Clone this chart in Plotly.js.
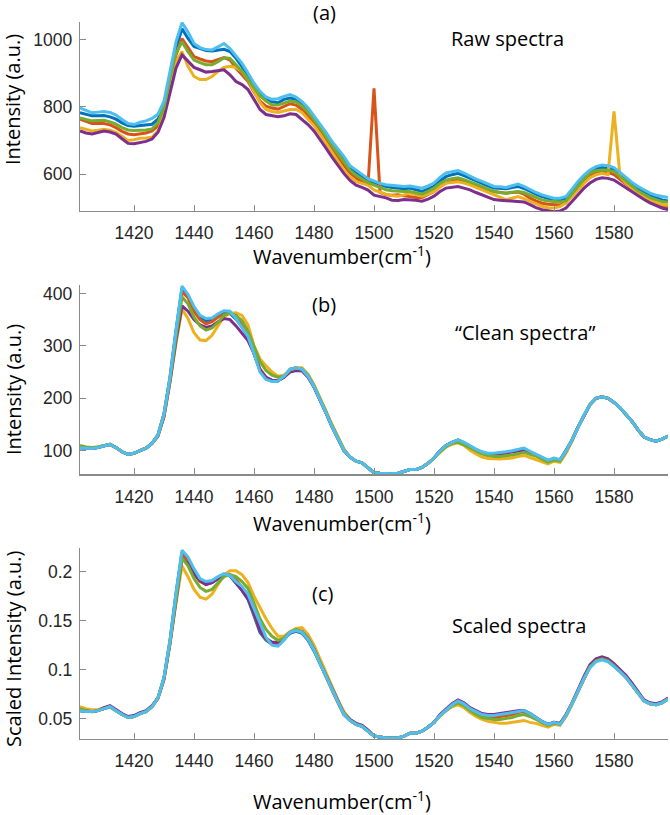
<!DOCTYPE html>
<html>
<head>
<meta charset="utf-8">
<script src="https://cdn.plot.ly/plotly-3.0.1.min.js"></script>
<style>html,body{margin:0;padding:0;background:#fff;}#chart{width:670px;height:815px;}</style>
</head>
<body>
<div id="chart"></div>
<script>
// Wavenumber (cm^-1)
const wavenumber = [
1402,1404,1406,1408,1410,1412,1414,1416,1418,1420,
1422,1424,1426,1428,1430,1432,1434,1436,1438,1440,
1442,1444,1446,1448,1450,1452,1454,1456,1458,1460,
1462,1464,1466,1468,1470,1472,1474,1476,1478,1480,
1482,1484,1486,1488,1490,1492,1494,1496,1498,1500,
1502,1504,1506,1508,1510,1512,1514,1516,1518,1520,
1522,1524,1526,1528,1530,1532,1534,1536,1538,1540,
1542,1544,1546,1548,1550,1552,1554,1556,1558,1560,
1562,1564,1566,1568,1570,1572,1574,1576,1578,1580,
1582,1584,1586,1588,1590,1592,1594,1596,1598];

const seriesNames = ["Spectrum 1","Spectrum 2","Spectrum 3","Spectrum 4","Spectrum 5","Spectrum 6"];
const xTicks = [1420,1440,1460,1480,1500,1520,1540,1560,1580];

// (a) Raw spectra
const raw1 = [
782,777,773,773,774,770,763,752,744,742,
744,746,748,763,807,896,974,1032,1003,979,
972,967,966,969,971,964,944,919,890,861,
837,822,815,812,822,826,822,807,789,768,
744,717,691,670,645,620,606,593,581,575,
568,563,560,557,556,558,553,548,555,563,
580,592,598,602,595,587,580,573,565,558,
557,556,560,563,557,548,540,533,527,523,
523,528,550,573,592,607,616,619,617,612,
598,582,567,555,545,537,530,523,520];
const raw2 = [
763,756,750,750,750,746,738,727,719,717,
719,722,728,743,787,876,954,1003,975,949,
942,936,934,939,946,939,914,895,875,844,
817,802,796,793,802,809,805,792,773,753,
728,701,675,650,626,603,589,576,568,855,
545,538,537,538,535,532,530,530,538,548,
562,573,578,582,578,573,565,558,552,548,
545,543,545,546,540,528,520,513,510,509,
508,514,535,558,580,596,604,608,605,598,
585,570,556,543,530,518,510,503,500];
const raw3 = [
738,732,728,730,733,730,724,712,700,702,
706,707,709,728,777,866,935,964,920,890,
881,881,890,905,917,920,917,905,880,846,
812,792,786,783,787,792,792,783,763,744,
719,691,665,636,611,592,577,572,567,553,
546,540,536,534,538,543,538,534,540,548,
562,573,575,577,573,568,560,553,545,538,
530,524,528,533,527,519,510,504,500,499,
503,514,533,553,572,589,598,602,598,786,
592,573,557,543,532,523,515,509,507];
const raw4 = [
728,722,719,723,728,725,719,705,691,690,
694,697,704,724,768,841,915,954,934,917,
910,903,905,907,910,895,875,866,851,822,
792,777,773,770,773,779,777,763,747,728,
704,677,650,625,601,581,567,560,552,537,
533,529,522,521,524,524,522,519,525,534,
548,558,561,563,558,553,545,538,530,524,
522,521,520,519,517,509,500,494,490,488,
490,499,518,538,558,573,584,589,587,582,
570,558,546,534,524,514,506,499,494];
const raw5 = [
767,762,758,759,760,755,748,738,731,729,
729,731,734,753,797,885,959,993,964,939,
931,925,925,934,946,944,925,905,880,856,
832,817,805,805,812,817,814,802,785,763,
738,711,684,660,636,611,596,584,574,567,
560,553,550,548,548,548,544,540,548,558,
572,582,586,589,583,577,570,563,555,548,
545,543,546,548,545,538,530,523,520,518,
517,520,540,563,585,603,610,612,611,607,
593,578,563,550,540,530,524,518,516];
const raw6 = [
797,790,782,784,786,783,775,762,750,747,
754,758,765,778,817,905,993,1050,1022,988,
976,970,969,978,988,973,952,929,900,870,
846,829,822,824,831,836,829,815,797,773,
750,724,697,675,652,625,611,599,586,578,
572,568,566,566,563,564,561,558,565,573,
590,603,607,610,603,593,585,578,570,563,
562,560,565,570,563,553,545,538,532,528,
528,533,555,578,597,612,622,627,625,619,
605,589,575,563,552,543,537,533,530];

// (b) "Clean spectra"
const clean1 = [
105,104,104,106,109,112,106,98,93,95,
100,105,114,130,170,240,330,410,396,372,
355,348,350,358,363,362,351,336,318,287,
253,238,233,233,241,255,258,255,242,222,
198,172,146,122,100,88,80,77,68,58,
57,56,56,57,60,64,64,68,76,86,
100,110,116,120,115,108,102,97,94,94,
95,97,99,102,104,98,93,87,81,85,
82,100,120,145,168,188,200,203,200,192,
182,170,156,140,126,121,118,122,128];
const clean2 = [
106,105,105,107,110,112,106,98,93,95,
100,105,114,130,170,238,325,403,392,366,
350,342,346,355,360,362,355,340,320,290,
256,240,234,234,241,255,258,255,242,222,
198,172,146,122,100,88,80,77,68,58,
57,56,56,57,60,64,64,68,76,86,
99,109,115,118,113,106,100,95,92,92,
93,95,98,100,102,97,91,86,80,84,
81,99,120,145,168,188,200,203,200,192,
182,170,156,140,126,121,118,122,128];
const clean3 = [
108,106,105,107,110,112,106,98,93,95,
100,105,114,128,165,230,305,370,352,325,
311,310,320,338,356,362,363,358,340,300,
275,262,250,242,244,254,258,258,246,226,
202,176,150,126,103,88,80,77,68,58,
57,56,56,57,60,64,64,68,76,86,
97,107,112,115,110,101,94,88,85,84,
84,85,86,89,91,87,83,79,75,80,
78,95,118,145,168,188,200,203,200,192,
182,170,156,140,126,121,118,122,128];
const clean4 = [
106,105,104,106,109,112,106,98,93,95,
100,105,114,128,165,232,310,376,366,350,
340,335,338,346,352,350,338,325,310,285,
254,240,234,234,240,250,253,252,240,221,
198,172,146,122,100,88,80,77,68,58,
57,56,56,57,60,64,64,68,76,86,
100,110,116,120,115,108,101,96,93,93,
94,96,98,100,101,96,91,86,80,84,
82,100,120,145,168,188,200,203,200,192,
182,170,156,140,126,121,118,122,128];
const clean5 = [
110,107,106,107,110,112,106,98,93,95,
100,105,114,130,168,236,318,393,380,355,
338,330,334,345,358,362,358,348,328,300,
270,253,244,240,242,254,257,256,244,224,
200,174,148,124,102,88,80,77,68,58,
57,56,56,57,60,64,64,68,76,86,
98,108,114,116,111,105,99,94,91,89,
89,90,92,94,97,93,90,84,78,82,
80,98,120,145,168,188,200,203,200,192,
182,170,156,140,126,121,118,122,128];
const clean6 = [
105,104,104,106,109,112,106,98,93,95,
100,105,114,130,170,240,330,414,398,375,
358,352,353,361,367,366,352,336,318,285,
250,236,232,233,242,255,258,255,242,222,
198,172,146,122,100,88,80,77,68,58,
57,56,56,57,60,64,64,68,76,86,
100,110,116,121,116,109,103,98,95,95,
96,98,100,103,105,99,94,88,82,86,
83,100,120,145,168,188,200,203,200,192,
182,170,156,140,126,121,118,122,128];

// (c) Scaled spectra
const scaled1 = [
0.058,0.057,0.057,0.058,0.060,0.062,0.058,0.054,0.051,0.052,
0.055,0.057,0.062,0.071,0.092,0.130,0.178,0.220,0.213,0.200,
0.191,0.188,0.189,0.193,0.197,0.196,0.189,0.181,0.172,0.156,
0.138,0.130,0.126,0.126,0.131,0.137,0.139,0.137,0.130,0.119,
0.106,0.093,0.079,0.066,0.054,0.048,0.044,0.042,0.037,0.032,
0.031,0.030,0.030,0.030,0.032,0.035,0.035,0.037,0.041,0.046,
0.053,0.059,0.064,0.068,0.065,0.060,0.057,0.054,0.053,0.053,
0.054,0.055,0.056,0.057,0.058,0.055,0.051,0.047,0.044,0.046,
0.044,0.053,0.065,0.078,0.091,0.103,0.109,0.111,0.109,0.104,
0.098,0.092,0.084,0.076,0.068,0.065,0.064,0.066,0.070];
const scaled2 = [
0.058,0.057,0.057,0.058,0.060,0.062,0.058,0.054,0.051,0.052,
0.055,0.057,0.062,0.071,0.091,0.128,0.175,0.218,0.212,0.198,
0.190,0.187,0.189,0.194,0.197,0.197,0.192,0.184,0.174,0.158,
0.140,0.131,0.127,0.127,0.131,0.138,0.140,0.138,0.131,0.120,
0.106,0.093,0.079,0.066,0.054,0.048,0.044,0.042,0.037,0.032,
0.031,0.030,0.030,0.030,0.032,0.035,0.035,0.037,0.041,0.046,
0.053,0.059,0.064,0.067,0.064,0.059,0.056,0.053,0.051,0.051,
0.052,0.053,0.054,0.056,0.057,0.054,0.050,0.046,0.043,0.045,
0.044,0.053,0.065,0.078,0.091,0.103,0.109,0.111,0.109,0.104,
0.098,0.092,0.084,0.076,0.068,0.065,0.064,0.066,0.070];
const scaled3 = [
0.062,0.060,0.059,0.059,0.061,0.062,0.058,0.054,0.051,0.052,
0.055,0.057,0.062,0.070,0.090,0.126,0.168,0.206,0.195,0.182,
0.174,0.172,0.177,0.187,0.197,0.201,0.201,0.197,0.189,0.175,
0.163,0.152,0.142,0.134,0.134,0.139,0.142,0.143,0.136,0.125,
0.111,0.097,0.083,0.069,0.057,0.049,0.045,0.043,0.038,0.032,
0.031,0.030,0.030,0.030,0.032,0.035,0.035,0.037,0.041,0.046,
0.052,0.058,0.062,0.064,0.061,0.056,0.052,0.049,0.047,0.046,
0.045,0.045,0.046,0.047,0.048,0.046,0.045,0.043,0.041,0.044,
0.043,0.052,0.064,0.078,0.091,0.103,0.109,0.111,0.109,0.104,
0.098,0.092,0.084,0.076,0.068,0.065,0.064,0.066,0.070];
const scaled4 = [
0.059,0.058,0.057,0.058,0.061,0.063,0.059,0.055,0.052,0.053,
0.056,0.058,0.063,0.071,0.090,0.127,0.170,0.214,0.208,0.198,
0.191,0.187,0.189,0.193,0.197,0.196,0.189,0.181,0.172,0.158,
0.140,0.132,0.128,0.128,0.132,0.138,0.140,0.139,0.132,0.121,
0.107,0.094,0.080,0.067,0.055,0.049,0.045,0.043,0.038,0.032,
0.031,0.030,0.030,0.030,0.032,0.035,0.035,0.037,0.041,0.046,
0.054,0.060,0.065,0.069,0.066,0.061,0.058,0.055,0.054,0.054,
0.055,0.056,0.057,0.058,0.058,0.055,0.051,0.047,0.044,0.046,
0.045,0.054,0.066,0.080,0.093,0.105,0.111,0.113,0.111,0.106,
0.100,0.094,0.086,0.077,0.069,0.066,0.065,0.067,0.071];
const scaled5 = [
0.060,0.058,0.057,0.058,0.060,0.062,0.058,0.054,0.051,0.052,
0.055,0.057,0.062,0.071,0.091,0.128,0.172,0.214,0.206,0.193,
0.184,0.180,0.182,0.188,0.195,0.197,0.195,0.190,0.183,0.168,
0.152,0.141,0.134,0.130,0.132,0.138,0.141,0.139,0.132,0.121,
0.107,0.094,0.080,0.067,0.055,0.048,0.044,0.042,0.037,0.032,
0.031,0.030,0.030,0.030,0.032,0.035,0.035,0.037,0.041,0.046,
0.053,0.058,0.063,0.066,0.063,0.058,0.054,0.051,0.050,0.049,
0.049,0.050,0.051,0.053,0.054,0.052,0.049,0.046,0.043,0.045,
0.044,0.053,0.065,0.078,0.091,0.103,0.109,0.111,0.109,0.104,
0.098,0.092,0.084,0.076,0.068,0.065,0.064,0.066,0.070];
const scaled6 = [
0.058,0.057,0.057,0.058,0.060,0.062,0.058,0.054,0.051,0.052,
0.055,0.057,0.062,0.071,0.092,0.130,0.178,0.222,0.215,0.203,
0.193,0.190,0.191,0.195,0.198,0.196,0.190,0.185,0.177,0.162,
0.147,0.133,0.125,0.124,0.130,0.138,0.140,0.138,0.131,0.120,
0.106,0.093,0.079,0.066,0.054,0.048,0.044,0.042,0.037,0.032,
0.031,0.030,0.030,0.030,0.032,0.035,0.035,0.037,0.041,0.046,
0.053,0.059,0.064,0.068,0.065,0.060,0.057,0.054,0.053,0.053,
0.054,0.055,0.056,0.057,0.058,0.055,0.051,0.047,0.044,0.046,
0.044,0.053,0.065,0.078,0.091,0.102,0.108,0.110,0.108,0.103,
0.098,0.092,0.084,0.076,0.068,0.065,0.064,0.066,0.070];

const colors = ["#0072BD","#D95319","#EDB120","#7E2F8E","#77AC30","#4DBEEE"];
const rawSets = [raw1, raw2, raw3, raw4, raw5, raw6];
const cleanSets = [clean1, clean2, clean3, clean4, clean5, clean6];
const scaledSets = [scaled1, scaled2, scaled3, scaled4, scaled5, scaled6];

const traces = [];
function addPanel(sets, xa, ya) {
  sets.forEach((ys, i) => {
    traces.push({
      x: wavenumber, y: ys, type: "scatter", mode: "lines",
      name: seriesNames[i], xaxis: xa, yaxis: ya, showlegend: false,
      line: {color: colors[i], width: 3}
    });
  });
}
addPanel(rawSets, "x", "y");
addPanel(cleanSets, "x2", "y2");
addPanel(scaledSets, "x3", "y3");

const W = 670, H = 815;
const tickFont = {family: "Liberation Sans, Arial, sans-serif", size: 17.5, color: "#262626"};
const axisColor = "#8a8a8a";
function xAxis() {
  return {
    domain: [80/W, 668/W], range: [1402, 1598], tickvals: xTicks,
    showline: true, linecolor: axisColor, linewidth: 1.2,
    ticks: "inside", ticklen: 6, tickcolor: axisColor, tickwidth: 1,
    showgrid: false, zeroline: false, tickfont: tickFont, ticklabelstandoff: 6,
    fixedrange: true
  };
}
function yAxis(top, bottom, range, tickvals, ticktext) {
  return {
    domain: [1 - bottom/H, 1 - top/H], range: range, tickvals: tickvals, ticktext: ticktext,
    showline: true, linecolor: axisColor, linewidth: 1.2,
    ticks: "inside", ticklen: 6, tickcolor: axisColor, tickwidth: 1,
    showgrid: false, zeroline: false, tickfont: tickFont, ticklabelstandoff: 3,
    fixedrange: true
  };
}
const labelFont = {family: "Open Sans, sans-serif", size: 20, color: "#000"};
function ann(text, px, py, rot) {
  return {text: text, xref: "paper", yref: "paper", x: px/W, y: 1 - py/H,
    xanchor: "center", yanchor: "middle", showarrow: false, font: labelFont,
    textangle: rot || 0};
}
const layout = {
  width: W, height: H, autosize: false,
  margin: {l: 0, r: 0, t: 0, b: 0},
  paper_bgcolor: "#fff", plot_bgcolor: "#fff",
  xaxis: Object.assign(xAxis(), {anchor: "y"}),
  yaxis: Object.assign(yAxis(22, 211, [490, 1052], [600, 800, 1000]), {anchor: "x"}),
  xaxis2: Object.assign(xAxis(), {anchor: "y2"}),
  yaxis2: Object.assign(yAxis(285, 474.3, [55, 416], [100, 200, 300, 400]), {anchor: "x2"}),
  xaxis3: Object.assign(xAxis(), {anchor: "y3"}),
  yaxis3: Object.assign(yAxis(548.3, 739, [0.029, 0.224], [0.05, 0.1, 0.15, 0.2], ["0.05","0.1","0.15","0.2"]), {anchor: "x3"}),
  annotations: [
    ann("(a)", 324, 12), ann("Raw spectra", 508, 39),
    ann("(b)", 324, 304), ann("\u201cClean spectra\u201d", 525, 332),
    ann("(c)", 322, 593), ann("Scaled spectra", 519, 625),
    ann("Wavenumber(cm<sup>-1</sup>)", 342, 256),
    ann("Wavenumber(cm<sup>-1</sup>)", 342, 522),
    ann("Wavenumber(cm<sup>-1</sup>)", 342, 800),
    ann("Intensity (a.u.)", 13, 100, -90),
    ann("Intensity (a.u.)", 13, 390, -90),
    ann("Scaled Intensity (a.u.)", 13, 649, -90)
  ]
};
Plotly.newPlot("chart", traces, layout, {displayModeBar: false, staticPlot: true});
</script>
</body>
</html>
